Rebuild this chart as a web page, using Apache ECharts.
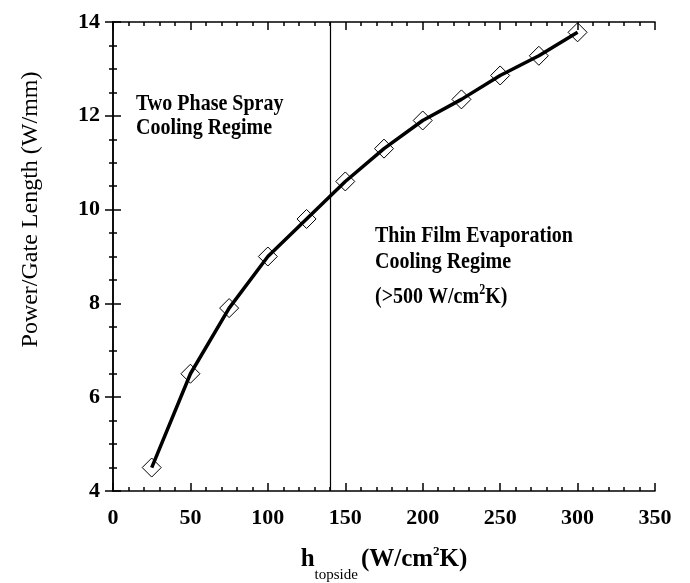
<!DOCTYPE html>
<html>
<head>
<meta charset="utf-8">
<script src="https://cdn.jsdelivr.net/npm/echarts@6/dist/echarts.min.js"></script>
<style>
  html, body { margin: 0; padding: 0; background: #fff; }
  #chart { width: 690px; height: 583px; }
</style>
</head>
<body>
<div id="chart"></div>
<script>
// h_topside (W/cm^2K)
var hTopside = [25, 50, 75, 100, 125, 150, 175, 200, 225, 250, 275, 300];
// power per gate length (W/mm)
var powerPerGate = [4.5, 6.5, 7.9, 9.0, 9.8, 10.6, 11.3, 11.9, 12.35, 12.86, 13.28, 13.78];
// regime boundary
var regimeBoundary = 140;

var FONT = '"Liberation Serif", "DejaVu Serif", serif';

var chart = echarts.init(document.getElementById('chart'));

function axisCommon(showLabel, minorSplit) {
    return {
        axisLine: { show: true, lineStyle: { color: '#000', width: 1.5 } },
        axisTick: { show: true, inside: true, length: 8, lineStyle: { color: '#000', width: 1.5 } },
        minorTick: { show: true, splitNumber: minorSplit, length: 4, lineStyle: { color: '#000', width: 1.5 } },
        splitLine: { show: false },
        axisLabel: {
            show: showLabel, color: '#000', fontFamily: FONT, fontSize: 22, fontWeight: 'bold'
        }
    };
}

var xMain = Object.assign(axisCommon(true, 5), {
    type: 'value', min: 0, max: 350, interval: 50, position: 'bottom',
    name: '{h|h}{sub|topside} {u|(W/cm}{sup|2}{u|K)}',
    nameLocation: 'middle', nameGap: 45,
    nameTextStyle: {
        color: '#000', fontFamily: FONT,
        rich: {
            h: { fontSize: 25, fontFamily: FONT, fontWeight: 'bold', color: '#000' },
            sub: { fontSize: 15, fontFamily: FONT, color: '#000', padding: [32, 0, 0, 0] },
            u: { fontSize: 25, fontFamily: FONT, fontWeight: 'bold', color: '#000' },
            sup: { fontSize: 13, fontFamily: FONT, fontWeight: 'bold', color: '#000', padding: [0, 0, 16, 0] }
        }
    }
});
xMain.axisLabel.margin = 16;

var xTop = Object.assign(axisCommon(false, 5), {
    type: 'value', min: 0, max: 350, interval: 50, position: 'top'
});

var yMain = Object.assign(axisCommon(true, 4), {
    type: 'value', min: 4, max: 14, interval: 2, position: 'left',
    name: 'Power/Gate Length (W/mm)',
    nameLocation: 'middle', nameGap: 70,
    nameTextStyle: {
        color: '#000', fontFamily: FONT, fontSize: 24,
        padding: [0, 0, 0, 94]
    }
});
yMain.axisLabel.margin = 13;

var yRight = Object.assign(axisCommon(false, 4), {
    type: 'value', min: 4, max: 14, interval: 2, position: 'right'
});

function anno(text, x, y) {
    return {
        type: 'text', x: x, y: y, scaleY: 1.2,
        style: {
            text: text, fontFamily: FONT, fontSize: 20, fontWeight: 'bold', fill: '#000',
            verticalAlign: 'middle'
        }
    };
}

chart.setOption({
    animation: false,
    backgroundColor: '#fff',
    grid: { left: 113, right: 35, top: 22, bottom: 92, outerBoundsMode: 'none' },
    xAxis: [xMain, xTop],
    yAxis: [yMain, yRight],
    graphic: [
        anno('Two Phase Spray', 136, 104),
        anno('Cooling Regime', 136, 128),
        anno('Thin Film Evaporation', 375, 236),
        anno('Cooling Regime', 375, 262),
        {
            type: 'text', x: 375, y: 297, scaleY: 1.2,
            style: {
                text: '{a|(>500 W/cm}{s|2}{a|K)}',
                verticalAlign: 'middle',
                rich: {
                    a: { fontFamily: FONT, fontSize: 20, fontWeight: 'bold', color: '#000' },
                    s: { fontFamily: FONT, fontSize: 12, fontWeight: 'bold', color: '#000', padding: [0, 0, 12, 0] }
                }
            }
        }
    ],
    series: [{
        type: 'line',
        xAxisIndex: 0, yAxisIndex: 0,
        data: hTopside.map(function (h, i) { return [h, powerPerGate[i]]; }),
        symbol: 'diamond',
        symbolSize: 19,
        showAllSymbol: true,
        lineStyle: { color: '#000', width: 3.5 },
        itemStyle: { color: 'rgba(0,0,0,0)', borderColor: '#000', borderWidth: 1 },
        markLine: {
            silent: true,
            symbol: 'none',
            label: { show: false },
            lineStyle: { color: '#000', width: 1.2, type: 'solid' },
            data: [{ xAxis: regimeBoundary }]
        }
    }]
});
</script>
</body>
</html>
